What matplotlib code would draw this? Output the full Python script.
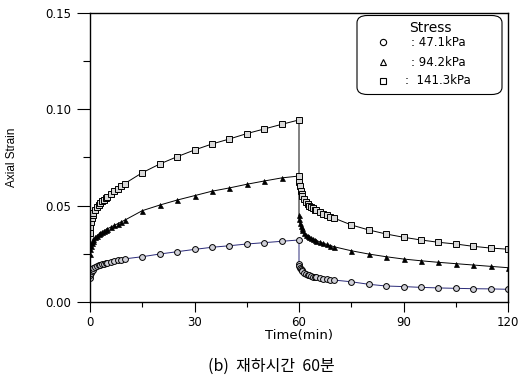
import matplotlib
matplotlib.use('Agg')
import matplotlib.pyplot as plt
from matplotlib.patches import FancyBboxPatch
from matplotlib.ticker import MultipleLocator, FormatStrFormatter

### data
# loading stage, 0 - 60 min
t_load = [0, 0.1, 0.25, 0.5, 0.75, 1, 1.5, 2, 2.5, 3, 3.5, 4, 4.5, 5, 6, 7, 8, 9, 10,
          15, 20, 25, 30, 35, 40, 45, 50, 55, 60]
# unloading stage, 60 - 120 min
t_unload = [60, 60.1, 60.25, 60.5, 60.75, 61, 61.5, 62, 62.5, 63, 63.5, 64, 64.5, 65, 66, 67, 68, 69, 70,
            75, 80, 85, 90, 95, 100, 105, 110, 115, 120]

s47_load = [0.0125, 0.0140, 0.0150, 0.0160, 0.0168, 0.0175, 0.0182, 0.0187, 0.0191, 0.0194,
            0.0197, 0.0199, 0.0201, 0.0203, 0.0207, 0.0212, 0.0216, 0.0220, 0.0224,
            0.0235, 0.0249, 0.0261, 0.0273, 0.0284, 0.0292, 0.0301, 0.0308, 0.0315, 0.0322]
s47_unload = [0.0197, 0.0185, 0.0178, 0.0170, 0.0164, 0.0159, 0.0152, 0.0146, 0.0142, 0.0138,
              0.0135, 0.0132, 0.0130, 0.0128, 0.0124, 0.0121, 0.0118, 0.0116, 0.0114,
              0.0105, 0.0092, 0.0083, 0.0080, 0.0076, 0.0073, 0.0071, 0.0069, 0.0068, 0.0066]

s94_load = [0.0250, 0.0275, 0.0292, 0.0308, 0.0318, 0.0325, 0.0336, 0.0345, 0.0352, 0.0359,
            0.0365, 0.0370, 0.0375, 0.0380, 0.0389, 0.0398, 0.0407, 0.0416, 0.0425,
            0.0474, 0.0503, 0.0529, 0.0552, 0.0575, 0.0592, 0.0611, 0.0628, 0.0644, 0.0654]
s94_unload = [0.0452, 0.0430, 0.0412, 0.0395, 0.0383, 0.0373, 0.0360, 0.0350, 0.0343, 0.0337,
              0.0332, 0.0327, 0.0323, 0.0319, 0.0312, 0.0305, 0.0299, 0.0293, 0.0287,
              0.0266, 0.0249, 0.0235, 0.0223, 0.0214, 0.0206, 0.0199, 0.0192, 0.0185, 0.0178]

s141_load = [0.0357, 0.0390, 0.0415, 0.0438, 0.0452, 0.0462, 0.0478, 0.0492, 0.0503, 0.0513,
             0.0522, 0.0531, 0.0539, 0.0546, 0.0560, 0.0574, 0.0588, 0.0601, 0.0615,
             0.0671, 0.0716, 0.0754, 0.0789, 0.0820, 0.0846, 0.0874, 0.0898, 0.0922, 0.0945]
s141_unload = [0.0655, 0.0625, 0.0600, 0.0578, 0.0562, 0.0550, 0.0533, 0.0520, 0.0510, 0.0500,
               0.0493, 0.0486, 0.0480, 0.0475, 0.0465, 0.0457, 0.0449, 0.0442, 0.0436,
               0.0400, 0.0374, 0.0353, 0.0336, 0.0322, 0.0310, 0.0301, 0.0289, 0.0280, 0.0274]

labels = [': 47.1kPa', ': 94.2kPa', ':  141.3kPa']
markers = ['o', '^', 's']

### figure (work in pixels of the 519x387 picture)
W, H = 519, 387
AX_L, AX_R, AX_T, AX_B = 90., 508., 13., 302.
fig = plt.figure(figsize=(W/100., H/100.), dpi=100)
ax = fig.add_axes([AX_L/W, 1-AX_B/H, (AX_R-AX_L)/W, (AX_B-AX_T)/H])

def axfrac(px, py):
    # pixel position in the picture -> axes fraction
    return (px-AX_L)/(AX_R-AX_L), (AX_B-py)/(AX_B-AX_T)

t_all = t_load + t_unload
ax.plot(t_all, s47_load + s47_unload, color='#2a2a78', lw=0.7, marker='o', ms=4.2,
        mfc='#d0d0d8', mec='black', mew=0.7)
ax.plot(t_all, s94_load + s94_unload, color='black', lw=0.7, marker='^', ms=3.6,
        mfc='black', mec='black', mew=0.5)
ax.plot(t_all, s141_load + s141_unload, color='black', lw=0.7, marker='s', ms=4.2,
        mfc='#d8d8d8', mec='black', mew=0.7)

ax.set_xlim(0, 120)
ax.set_ylim(0, 0.15)
ax.xaxis.set_major_locator(MultipleLocator(30))
ax.xaxis.set_minor_locator(MultipleLocator(15))
ax.yaxis.set_major_locator(MultipleLocator(0.05))
ax.yaxis.set_minor_locator(MultipleLocator(0.025))
ax.yaxis.set_major_formatter(FormatStrFormatter('%.2f'))

for s in ax.spines.values():
    s.set_linewidth(1.0)

ax.tick_params(axis='y', which='major', direction='out', length=9.5, width=0.8, pad=4, labelsize=8.5)
ax.tick_params(axis='y', which='minor', direction='out', length=5, width=0.8)
ax.tick_params(axis='x', which='major', direction='out', length=7, width=0.8, pad=3, labelsize=8.5)
ax.tick_params(axis='x', which='minor', direction='out', length=3.6, width=0.8)

ax.set_xlabel('Time(min)', fontsize=9.5, labelpad=0)
ax.set_ylabel('Axial Strain', fontsize=8.5, family='Liberation Sans', labelpad=0)
ax.yaxis.set_label_coords(-72./418, 0.5)

### legend box, drawn by hand so it matches the reference layout
x0, y0 = axfrac(357, 94.5)
x1, y1 = axfrac(502, 15.5)
ax.add_patch(FancyBboxPatch((x0, y0), x1-x0, y1-y0, transform=ax.transAxes,
                            boxstyle='round,pad=0,rounding_size=0.025',
                            fc='white', ec='black', lw=0.8, zorder=5))
tx, ty = axfrac(430, 28)
ax.text(tx, ty, 'Stress', transform=ax.transAxes, ha='center', va='center',
        fontsize=10, zorder=6)
rows_y = [42, 62, 81]
text_x = [411, 411, 405]
for m, lab, ry, lx in zip(markers, labels, rows_y, text_x):
    mx, my = axfrac(383, ry)
    ax.plot([mx], [my], ls='none', marker=m, ms=4.5, mfc='white', mec='black', mew=0.8,
            transform=ax.transAxes, zorder=6, clip_on=False)
    lxx, lyy = axfrac(lx, ry)
    ax.text(lxx, lyy, lab, transform=ax.transAxes, ha='left', va='center',
            fontsize=8.5, zorder=6)

fig.text(0.5235, 0.0525, '(b)  재하시간  60분', ha='center', va='center', fontsize=11.5,
         family=['Noto Sans CJK KR', 'DejaVu Sans'])

fig.savefig('out.png', dpi=100)
